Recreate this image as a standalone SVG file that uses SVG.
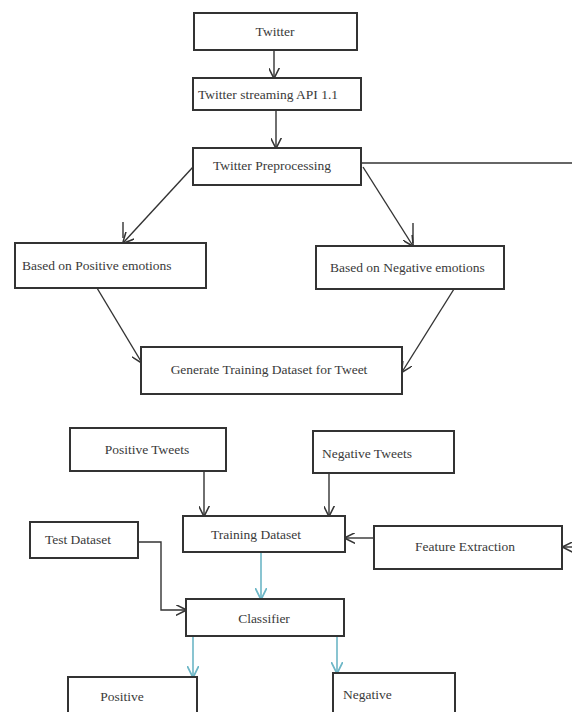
<svg xmlns="http://www.w3.org/2000/svg" width="572" height="712" viewBox="0 0 572 712">
<style>
.box{fill:#fff;stroke:#333;stroke-width:2}
.t{font-family:"Liberation Serif","Times New Roman",serif;font-size:13.5px;fill:#3a3a3a}
.c{fill:none;stroke:#333;stroke-width:1.4}
.cy{fill:none;stroke:#6cb6c6;stroke-width:1.6}
</style>
<defs>
<marker id="a" viewBox="0 0 10 10" refX="9.5" refY="5" markerWidth="11" markerHeight="11" markerUnits="userSpaceOnUse" orient="auto">
<path d="M0,0 L10,5 L0,10" fill="none" stroke="#333" stroke-width="1.4"/>
</marker>
<marker id="ac" viewBox="0 0 10 10" refX="9.5" refY="5" markerWidth="12" markerHeight="12" markerUnits="userSpaceOnUse" orient="auto">
<path d="M0,0 L10,5 L0,10" fill="none" stroke="#6cb6c6" stroke-width="1.5"/>
</marker>
</defs>
<rect width="572" height="712" fill="#fff"/>
<g id="connectors">
<line class="c" x1="274" y1="50" x2="274" y2="78" marker-end="url(#a)"/>
<line class="c" x1="276" y1="110" x2="276" y2="148" marker-end="url(#a)"/>
<line class="c" x1="361" y1="163" x2="572" y2="163"/>
<line class="c" x1="193" y1="167" x2="123" y2="243" marker-end="url(#a)"/>
<line class="c" x1="123" y1="222" x2="123" y2="238"/>
<line class="c" x1="363" y1="167" x2="413" y2="246" marker-end="url(#a)"/>
<line class="c" x1="413" y1="223" x2="413" y2="243"/>
<line class="c" x1="97" y1="288" x2="142" y2="363" marker-end="url(#a)"/>
<line class="c" x1="454" y1="289" x2="402" y2="372" marker-end="url(#a)"/>
<line class="c" x1="204" y1="471" x2="204" y2="516" marker-end="url(#a)"/>
<line class="c" x1="329" y1="473" x2="329" y2="516" marker-end="url(#a)"/>
<line class="c" x1="374" y1="538" x2="345" y2="538" marker-end="url(#a)"/>
<line class="c" x1="572" y1="547" x2="563" y2="547" marker-end="url(#a)"/>
<polyline class="c" points="138,542 161,542 161,610 186,610" marker-end="url(#a)"/>
<line class="cy" x1="261" y1="552" x2="261" y2="599" marker-end="url(#ac)"/>
<line class="cy" x1="193" y1="636" x2="193" y2="677" marker-end="url(#ac)"/>
<line class="cy" x1="337" y1="636" x2="337" y2="673" marker-end="url(#ac)"/>
</g>
<g id="twitter"><rect class="box" x="194" y="13" width="163" height="37"/><text class="t" x="275" y="36" text-anchor="middle">Twitter</text></g>
<g id="api"><rect class="box" x="193" y="78" width="168" height="32"/><text class="t" x="198" y="99">Twitter streaming API 1.1</text></g>
<g id="preprocessing"><rect class="box" x="193" y="148" width="168" height="37"/><text class="t" x="272" y="170" text-anchor="middle">Twitter Preprocessing</text></g>
<g id="positive-emotions"><rect class="box" x="15" y="243" width="191" height="45"/><text class="t" x="22" y="270">Based on Positive emotions</text></g>
<g id="negative-emotions"><rect class="box" x="316" y="246" width="188" height="43"/><text class="t" x="330" y="272">Based on Negative emotions</text></g>
<g id="generate"><rect class="box" x="141" y="347" width="261" height="47"/><text class="t" x="269" y="374" text-anchor="middle">Generate Training Dataset for Tweet</text></g>
<g id="positive-tweets"><rect class="box" x="70" y="428" width="156" height="43"/><text class="t" x="147" y="454" text-anchor="middle">Positive Tweets</text></g>
<g id="negative-tweets"><rect class="box" x="313" y="431" width="141" height="42"/><text class="t" x="322" y="458">Negative Tweets</text></g>
<g id="training-dataset"><rect class="box" x="183" y="516" width="162" height="36"/><text class="t" x="256" y="539" text-anchor="middle">Training Dataset</text></g>
<g id="feature-extraction"><rect class="box" x="374" y="526" width="188" height="43"/><text class="t" x="465" y="551" text-anchor="middle">Feature Extraction</text></g>
<g id="test-dataset"><rect class="box" x="30" y="522" width="108" height="36"/><text class="t" x="78" y="544" text-anchor="middle">Test Dataset</text></g>
<g id="classifier"><rect class="box" x="186" y="599" width="158" height="37"/><text class="t" x="264" y="623" text-anchor="middle">Classifier</text></g>
<g id="positive"><rect class="box" x="68" y="677" width="129" height="40"/><text class="t" x="122" y="701" text-anchor="middle">Positive</text></g>
<g id="negative"><rect class="box" x="333" y="673" width="122" height="44"/><text class="t" x="343" y="699">Negative</text></g>
</svg>
